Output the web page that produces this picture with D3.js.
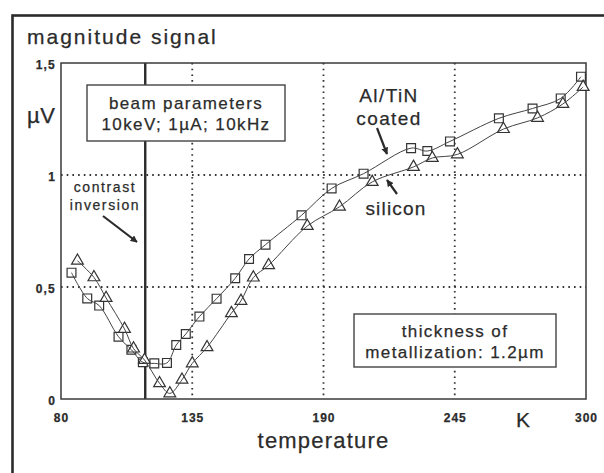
<!DOCTYPE html>
<html><head><meta charset="utf-8">
<script src="https://cdn.jsdelivr.net/npm/d3@7"></script>
<style>
html,body{margin:0;padding:0;background:#fff;}
svg{display:block;font-family:"Liberation Sans",Arial,Helvetica,sans-serif;}
svg text{stroke:#2b2b2b;stroke-width:0.25px;}
</style></head>
<body>
<svg id="chart" width="604" height="473"></svg>
<script>
// ---- data ----
const coatedTemp = [84.4, 91.0, 96.0, 104.1, 109.5, 114.3, 119.1, 124.4, 128.3, 132.3, 138.0, 145.2, 153.0, 158.8, 165.7, 180.8, 193.4, 206.8, 226.7, 233.5, 243.0, 263.5, 277.6, 289.4, 297.9];
const coatedVal  = [0.564, 0.449, 0.417, 0.278, 0.220, 0.164, 0.159, 0.161, 0.241, 0.290, 0.368, 0.448, 0.539, 0.625, 0.689, 0.820, 0.940, 1.006, 1.120, 1.107, 1.150, 1.253, 1.297, 1.342, 1.439];
const siliconTemp = [86.9, 93.8, 98.9, 106.6, 110.4, 115.0, 121.3, 125.6, 130.7, 135.0, 141.2, 151.4, 155.4, 160.6, 167.0, 183.2, 196.7, 210.4, 227.7, 235.6, 246.1, 265.4, 279.7, 290.3, 298.8];
const siliconVal  = [0.617, 0.543, 0.451, 0.313, 0.225, 0.174, 0.070, 0.025, 0.086, 0.159, 0.231, 0.383, 0.438, 0.542, 0.597, 0.772, 0.858, 0.969, 1.036, 1.076, 1.092, 1.205, 1.255, 1.317, 1.393];
const xTicks = [80, 135, 190, 245, 300];
const xGrid = [135, 190, 245];
const yTicks = [0, 0.5, 1, 1.5];
const yTickLabels = ["0", "0,5", "1", "1,5"];
const yGrid = [0.5, 1];
const inversionTemp = 115.3;

// ---- drawing ----
const svg = d3.select("#chart");
const ink = "#2b2b2b";
const x = d3.scaleLinear().domain([80, 300]).range([61, 586]);
const y = d3.scaleLinear().domain([0, 1.5]).range([399, 63]);

svg.append("rect").attr("width", 604).attr("height", 473).attr("fill", "#fff");
// outer frame
svg.append("rect").attr("x", 12.5).attr("y", 15.5).attr("width", 620).attr("height", 500)
  .attr("fill", "none").attr("stroke", ink).attr("stroke-width", 2.6);

// title texts
svg.append("text").attr("x", 27).attr("y", 44).attr("font-size", 21).attr("letter-spacing", 2)
  .attr("fill", ink).text("magnitude signal");
svg.append("text").attr("x", 27).attr("y", 123).attr("font-size", 22).attr("letter-spacing", 0.5)
  .attr("fill", ink).text("\u00b5V");

// grid
const grid = svg.append("g").attr("stroke", "#333").attr("stroke-width", 1.8)
  .attr("stroke-dasharray", "1.6,4.1");
grid.selectAll("line.v").data(xGrid).join("line").attr("class", "v")
  .attr("x1", d => x(d)).attr("x2", d => x(d)).attr("y1", y(1.5)).attr("y2", y(0));
grid.selectAll("line.h").data(yGrid).join("line").attr("class", "h")
  .attr("x1", x(80)).attr("x2", x(300)).attr("y1", d => y(d)).attr("y2", d => y(d));

// inversion line
svg.append("line").attr("x1", x(inversionTemp)).attr("x2", x(inversionTemp))
  .attr("y1", y(1.5)).attr("y2", y(0)).attr("stroke", ink).attr("stroke-width", 2.4);

// plot frame
svg.append("rect").attr("x", x(80)).attr("y", y(1.5)).attr("width", x(300) - x(80)).attr("height", y(0) - y(1.5))
  .attr("fill", "none").attr("stroke", "#3a3a3a").attr("stroke-width", 1.5);

// axes labels (no tick marks)
const xAxis = d3.axisBottom(x).tickValues(xTicks).tickSize(0).tickPadding(14).tickFormat(d3.format("d"));
const gx = svg.append("g").attr("transform", `translate(0,${y(0)})`).call(xAxis);
gx.select(".domain").remove();
gx.selectAll("text").attr("font-size", 12).attr("font-weight", "bold").attr("letter-spacing", 1)
  .attr("fill", ink).attr("font-family", "Liberation Sans, Arial, sans-serif");

const yAxis = d3.axisLeft(y).tickValues(yTicks).tickSize(0).tickPadding(5)
  .tickFormat((d, i) => yTickLabels[i]);
const gy = svg.append("g").attr("transform", `translate(${x(80)},1.5)`).call(yAxis);
gy.select(".domain").remove();
gy.selectAll("text").attr("font-size", 12).attr("font-weight", "bold").attr("letter-spacing", 1.2)
  .attr("fill", ink).attr("font-family", "Liberation Sans, Arial, sans-serif");

svg.append("text").attr("x", 523).attr("y", 427).attr("text-anchor", "middle").attr("font-size", 21)
  .attr("fill", ink).text("K");
svg.append("text").attr("x", 323.5).attr("y", 448).attr("text-anchor", "middle").attr("font-size", 22)
  .attr("letter-spacing", 1.2).attr("fill", ink).text("temperature");

// boxes
function box(x0, y0, w, h, lines, fs, ls) {
  svg.append("rect").attr("x", x0).attr("y", y0).attr("width", w).attr("height", h)
    .attr("fill", "#fff").attr("stroke", "#444").attr("stroke-width", 1.4);
  lines.forEach(l => {
    svg.append("text").attr("x", x0 + w / 2).attr("y", l.y).attr("text-anchor", "middle")
      .attr("font-size", fs).attr("letter-spacing", ls).attr("fill", ink).text(l.t);
  });
}
box(87, 85, 198, 56, [{t: "beam parameters", y: 109}, {t: "10keV; 1\u00b5A; 10kHz", y: 130}], 17, 1.4);
box(354, 314, 202, 53, [{t: "thickness of", y: 337}, {t: "metallization: 1.2\u00b5m", y: 358}], 17, 1.4);

// series
const coated = coatedTemp.map((t, i) => [t, coatedVal[i]]);
const silicon = siliconTemp.map((t, i) => [t, siliconVal[i]]);
const line = d3.line().x(d => x(d[0])).y(d => y(d[1])).curve(d3.curveCatmullRom.alpha(0.5));

const sq = d3.symbol().type(d3.symbolSquare).size(78);
const tri = d3.symbol().type(d3.symbolTriangle).size(60);
svg.append("g").selectAll("path").data(coated).join("path")
  .attr("transform", d => `translate(${x(d[0])},${y(d[1])})`).attr("d", sq)
  .attr("fill", "#fff").attr("stroke", "#333").attr("stroke-width", 1.2);
svg.append("g").selectAll("path").data(silicon).join("path")
  .attr("transform", d => `translate(${x(d[0])},${y(d[1])})`).attr("d", tri)
  .attr("fill", "#fff").attr("stroke", "#333").attr("stroke-width", 1.2);
svg.append("path").datum(coated).attr("d", line).attr("fill", "none").attr("stroke", "#444").attr("stroke-width", 1);
svg.append("path").datum(silicon).attr("d", line).attr("fill", "none").attr("stroke", "#444").attr("stroke-width", 1);

// annotations
function label(lines, cx, fs, ls) {
  lines.forEach(l => svg.append("text").attr("x", cx).attr("y", l.y).attr("text-anchor", "middle")
    .attr("font-size", fs).attr("letter-spacing", ls).attr("fill", ink).text(l.t));
}
label([{t: "contrast", y: 192}, {t: "inversion", y: 210}], 105, 14, 1.6);
label([{t: "Al/TiN", y: 102}, {t: "coated", y: 125}], 389, 19, 1.4);
label([{t: "silicon", y: 215}], 396, 19, 1.2);

const defs = svg.append("defs");
defs.append("marker").attr("id", "ah").attr("viewBox", "0 0 10 10").attr("refX", 9).attr("refY", 5)
  .attr("markerWidth", 3.2).attr("markerHeight", 3.2).attr("orient", "auto")
  .append("path").attr("d", "M0,0 L10,5 L0,10 Z").attr("fill", ink);
function arrow(x1, y1, x2, y2) {
  svg.append("line").attr("x1", x1).attr("y1", y1).attr("x2", x2).attr("y2", y2)
    .attr("stroke", ink).attr("stroke-width", 2.2).attr("marker-end", "url(#ah)");
}
arrow(103, 216, 137, 242);
arrow(377, 128, 387, 154);
arrow(397, 194, 387, 180);
</script>
</body></html>
